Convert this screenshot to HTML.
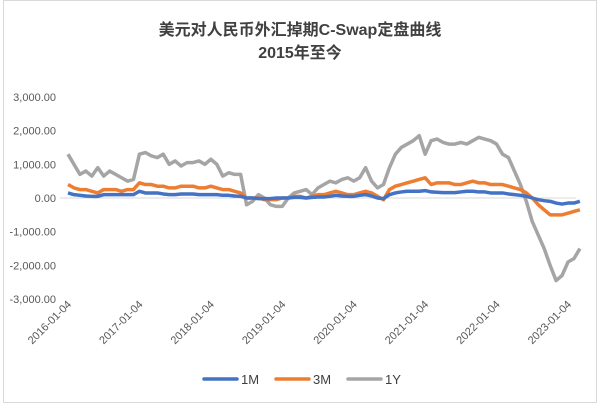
<!DOCTYPE html>
<html><head><meta charset="utf-8"><style>
body{margin:0;background:#fff;}
#c{position:relative;width:600px;height:404px;overflow:hidden;font-family:"Liberation Sans","Noto Sans CJK SC",sans-serif;}
</style></head><body>
<div id="c">
<svg id="s" width="600" height="404">
<rect x="3.5" y="0.5" width="593" height="402" fill="#fff" stroke="#d9d9d9"/>
<text x="300" y="35" text-anchor="middle" font-size="16" font-weight="bold" fill="#404040">美元对人民币外汇掉期C-Swap定盘曲线</text>
<text x="300" y="58" text-anchor="middle" font-size="16" font-weight="bold" fill="#404040">2015年至今</text>
<g id="yax"></g><g id="xax"></g><g id="series"></g><g id="legend"></g>
</svg></div>
<script>
const yTicks=[3000,2000,1000,0,-1000,-2000,-3000];
const xLabels=["2016-01-04","2017-01-04","2018-01-04","2019-01-04","2020-01-04","2021-01-04","2022-01-04","2023-01-04"];
const seriesNames=["1M","3M","1Y"];
const s1M=[150,100,80,60,50,50,100,100,100,100,100,100, 200,150,150,150,120,100,100,120,120,120,100,100, 100,100,80,80,60,50,0,0,-20,-20,-20,0, 0,0,20,20,0,20,30,30,50,80,60,50, 50,80,100,60,0,-20,100,150,180,200,200,200, 220,180,170,160,160,160,180,200,200,180,180,150, 150,150,120,100,80,50,0,-50,-80,-100,-150,-180, -150,-150,-100];
const s3M=[400,300,250,250,200,150,250,250,250,200,250,250, 450,400,400,350,350,300,300,350,350,350,300,300, 350,300,250,250,200,150,0,0,0,-50,-50,-50, 0,0,50,50,0,50,100,100,150,200,150,100, 100,150,200,150,50,-50,250,350,400,450,500,550, 600,400,450,450,450,400,400,450,500,450,450,400, 400,400,350,300,250,150,0,-200,-350,-500,-500,-500, -450,-400,-350];
const s1Y=[1300,1000,700,800,650,900,650,800,700,600,500,550, 1300,1350,1250,1200,1300,1000,1100,950,1050,1050,1100,1000, 1150,1000,650,750,700,700,-200,-100,100,0,-200,-250, -250,0,150,200,250,100,300,400,500,450,550,600, 500,600,900,500,300,400,900,1300,1500,1600,1700,1850, 1300,1700,1750,1650,1600,1600,1650,1600,1700,1800,1750,1700, 1600,1300,1200,800,400,-100,-700,-1100,-1500,-2000,-2450,-2300, -1900,-1800,-1500];
const colors=["#4472c4","#ed7d31","#a5a5a5"];
const NS="http://www.w3.org/2000/svg";
const X0=68,X1=568,Y0=198,PER=33.7;
function xs(m){return X0+(X1-X0)*m/84;}
function ys(v){return Y0-v*PER/1000;}
function el(t,a,p){const e=document.createElementNS(NS,t);for(const k in a)e.setAttribute(k,a[k]);p.appendChild(e);return e;}
const yax=document.getElementById('yax');
yTicks.forEach(v=>{const t=el('text',{x:56,y:ys(v)+4,'text-anchor':'end','font-size':11,fill:'#595959'},yax);


t.textContent=v.toLocaleString('en-US',{minimumFractionDigits:2});});
const zl=el('line',{x1:X0-8,x2:576,y1:Y0,y2:Y0,stroke:'#d9d9d9','stroke-width':1},yax);


const xax=document.getElementById('xax');
xLabels.forEach((l,i)=>{const x=xs(i*12)+4,y=305;const t=el('text',{x:x,y:y,'text-anchor':'end','font-size':11,fill:'#595959',transform:`rotate(-45 ${x} ${y})`},xax);


t.textContent=l;});
const sg=document.getElementById('series');
[s1Y,s3M,s1M].forEach((d,j)=>{const k=2-j;const p=el('polyline',{points:d.map((v,i)=>xs(i)+','+ys(v)).join(' '),fill:'none',stroke:colors[k],'stroke-width':3.5,'stroke-linejoin':'round'},sg);

});
const lg=document.getElementById('legend');
const lx=[204,276,348];
seriesNames.forEach((n,k)=>{const g=el('g',{},lg);


el('line',{x1:lx[k],x2:lx[k]+33,y1:379,y2:379,stroke:colors[k],'stroke-width':3.5,'stroke-linecap':'round'},g);
const t=el('text',{x:lx[k]+37,y:384,'font-size':13,fill:'#404040'},g);t.textContent=n;});
</script>
</body></html>
